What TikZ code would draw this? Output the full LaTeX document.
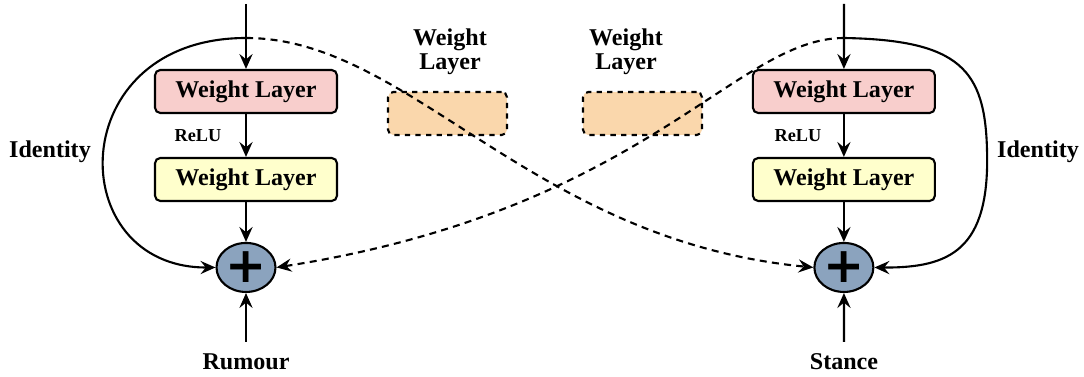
\documentclass[tikz,border=0pt]{standalone}
\usepackage{fontspec}
\setmainfont{Liberation Serif}
\newfontfamily\plusfont{DejaVu Sans}
\usetikzlibrary{arrows.meta,shapes.geometric}

\definecolor{layerred}{RGB}{248,206,204}
\definecolor{layeryellow}{RGB}{255,255,204}
\definecolor{layerorange}{RGB}{250,215,172}
\definecolor{sumblue}{RGB}{139,163,190}

\begin{document}
\begin{tikzpicture}[x=0.02cm, y=-0.02cm, node distance=1.76cm, line width=1.2pt,
	>={Stealth[length=8.5pt, width=7.5pt, inset=3pt]},
	every node/.style={font=\bfseries\fontsize{13.7}{13.7}\selectfont},
	layer/.style={rectangle, draw, rounded corners=3pt, text centered, minimum height=0.86cm, minimum width=3.64cm, inner sep=0pt},
	ghost/.style={rectangle, draw, dashed, rounded corners=3pt, minimum height=0.86cm, minimum width=2.38cm, fill=layerorange},
	sum/.style={ellipse, draw, fill=sumblue, minimum width=1.18cm, minimum height=0.98cm, inner sep=0pt},
	skip/.style={->, dash pattern=on 4pt off 3pt}]
	\useasboundingbox (0,0) rectangle (1084,377);

	% rumour branch
	\node (wlA) [layer, fill=layerred] at (246,91.5) {Weight Layer};
	\node (wlB) [layer, fill=layeryellow, below of=wlA] {Weight Layer};
	\node (sumA) [sum, below of=wlB] {\plusfont\fontsize{28}{28}\selectfont +};
	\node (reluA) at (198,136) {\fontsize{10.4}{10.4}\selectfont ReLU};
	\node (identA) at (50,152) {Identity};
	\node (rumour) at (246,362) {Rumour};
	\coordinate (inA) at (246,4);
	\coordinate (splitA) at (246,38);
	\coordinate (srcA) at (246,342);

	% stance branch
	\node (wlC) [layer, fill=layerred, node distance=11.96cm, right of=wlA] {Weight Layer};
	\node (wlD) [layer, fill=layeryellow, below of=wlC] {Weight Layer};
	\node (sumB) [sum, below of=wlD] {\plusfont\fontsize{28}{28}\selectfont +};
	\node (reluB) at (798,136) {\fontsize{10.4}{10.4}\selectfont ReLU};
	\node (identB) at (1038,152) {Identity};
	\node (stance) at (844,362) {Stance};
	\coordinate (inB) at (844,4);
	\coordinate (splitB) at (844,38);
	\coordinate (srcB) at (844,342);

	% shared weight layers
	\node (ghostA) [ghost] at (447.5,113.5) {};
	\node (ghostB) [ghost] at (642.5,113.5) {};
	\node (ghostAlabel) [align=center] at (450,52) {Weight\\Layer};
	\node (ghostBlabel) [align=center] at (626,52) {Weight\\Layer};

	\draw[->] (inA) -- (wlA);
	\draw[->] (wlA) -- (wlB);
	\draw[->] (wlB) -- (sumA);
	\draw[->] (srcA) -- (sumA);
	\draw[->] (splitA) .. controls (62,38) and (62,268) .. (sumA.west);

	\draw[->] (inB) -- (wlC);
	\draw[->] (wlC) -- (wlD);
	\draw[->] (wlD) -- (sumB);
	\draw[->] (srcB) -- (sumB);
	\draw[->] (splitB) .. controls (960,40) and (985,70) .. (987,150) .. controls (990,250) and (950,268) .. (sumB.east);

	\draw[skip] (splitA) .. controls (410,38) and (530,240) .. (sumB.west);
	\draw[skip] (splitB) .. controls (735,38) and (645,210) .. (sumA.east);
\end{tikzpicture}
\end{document}
